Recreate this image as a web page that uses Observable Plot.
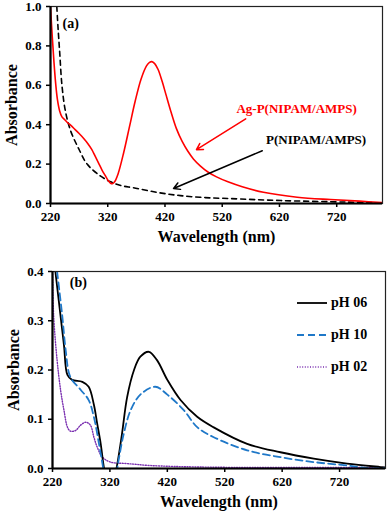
<!DOCTYPE html>
<html><head><meta charset="utf-8">
<script src="https://cdn.jsdelivr.net/npm/d3@7"></script>
<script src="https://cdn.jsdelivr.net/npm/@observablehq/plot@0.6"></script>
<style>
body{margin:0;background:#fff;}
#wrap{position:relative;width:387px;height:514px;font-family:'Liberation Serif';}
#wrap svg{display:block;}
#wrap text{font-family:'Liberation Serif' !important;}
#legend{position:absolute;left:297px;top:287px;font:bold 14px 'Liberation Serif';}
#legend div{display:flex;align-items:center;height:32px;}
#legend svg{margin-right:2px;}
</style></head>
<body><div id="wrap"><div id="pa"></div><div id="pb"></div><div id="legend"></div></div>
<script>
// Panel (a)
const agWl  = [220,223,226,229,232,236,240,245,250,256,263,270,278,285,292,298,304,310,316,321,325,328,332,338,348,358,368,378,388,393,397,402,408,415,422,430,440,450,460,470,482,495,510,530,555,592,651,709,760,800];
const agAbs = [1.0,0.85,0.72,0.61,0.53,0.47,0.44,0.425,0.41,0.395,0.375,0.355,0.33,0.305,0.275,0.24,0.205,0.17,0.14,0.115,0.103,0.10,0.11,0.15,0.26,0.39,0.52,0.63,0.70,0.716,0.72,0.71,0.68,0.62,0.55,0.47,0.38,0.315,0.265,0.225,0.19,0.16,0.135,0.11,0.085,0.057,0.032,0.02,0.012,0.004];
const polWl  = [231,233,236,240,246,255,269,284,307,325,345,365,407,447,490,534,622,739,800];
const polAbs = [1.0,0.9,0.77,0.60,0.47,0.37,0.28,0.20,0.14,0.11,0.09,0.08,0.056,0.04,0.03,0.025,0.015,0.007,0.003];
// Panel (b)
const ph06Wl  = [225,234,240,246,254,272,283,292,298,304,309,315,320,326,333,341,350,362,373,388,402,420,443,472,500,559,617,675,733,791,800];
const ph06Abs = [0.40,0.31,0.25,0.19,0.18,0.176,0.166,0.13,0.09,0.05,0.006,-0.03,-0.05,-0.03,0.01,0.07,0.145,0.20,0.227,0.237,0.22,0.18,0.139,0.105,0.084,0.05,0.033,0.02,0.01,0.003,0.002];
const ph10Wl  = [228,237,243,251,269,283,292,301,307,313,320,328,335,344,356,373,399,420,449,472,500,559,617,675,733,766,800];
const ph10Abs = [0.40,0.31,0.24,0.186,0.16,0.139,0.105,0.05,0.01,-0.03,-0.05,-0.03,0.016,0.07,0.118,0.15,0.166,0.15,0.118,0.084,0.064,0.037,0.023,0.013,0.006,0.001,0.0];
const ph02Wl  = [220,222,228,234,240,246,251,260,269,278,286,292,298,307,321,350,391,478,600,800];
const ph02Abs = [0.40,0.31,0.22,0.16,0.118,0.084,0.076,0.077,0.088,0.094,0.088,0.064,0.043,0.023,0.013,0.01,0.006,0.003,0.002,0.002];

const xTicks = [220,320,420,520,620,720];
const yTicksA = [0,0.2,0.4,0.6,0.8,1.0];
const yTicksB = [0,0.1,0.2,0.3,0.4];

const FF = "Liberation Serif";
const pts = (xs, ys) => xs.map((x,i)=>({x, y: ys[i]}));

function axes(yTicks, yDomain){
  return [
    Plot.axisX({ticks: xTicks, tickFormat: d=>String(d), tickSize: 4, tickPadding: 4, fontSize: 13, fontWeight: "bold", fontFamily: FF, label: null, strokeWidth: 1.5}),
    Plot.axisY({ticks: yTicks, tickFormat: d=>d.toFixed(1), tickSize: 4, tickPadding: 5, fontSize: 13, fontWeight: "bold", fontFamily: FF, label: null, strokeWidth: 1.5}),
    Plot.frame({stroke: "#222", strokeWidth: 1.2}),
    Plot.ruleX([220], {stroke: "#000", strokeWidth: 2.2}),
    Plot.ruleY([yDomain[0]], {stroke: "#000", strokeWidth: 2.2}),
    Plot.text(["Absorbance"], {frameAnchor: "left", textAnchor: "middle", dx: -39, rotate: -90, fontSize: 16, fontWeight: "bold", fontFamily: FF}),
    Plot.text(["Wavelength (nm)"], {frameAnchor: "bottom", dy: 38, fontSize: 16, fontWeight: "bold", fontFamily: FF})
  ];
}

const plotA = Plot.plot({
  width: 387, height: 250,
  marginLeft: 50, marginRight: 5, marginTop: 6, marginBottom: 47,
  style: {color: "#000", background: "#fff", overflow: "visible"},
  x: {domain: [220, 800]},
  y: {domain: [0, 1.0]},
  marks: [
    Plot.line(pts(polWl, polAbs), {x: "x", y: "y", stroke: "#000", strokeWidth: 1.6, strokeDasharray: "5,4", curve: "catmull-rom", clip: true}),
    Plot.line(pts(agWl, agAbs), {x: "x", y: "y", stroke: "#ff0000", strokeWidth: 1.6, curve: "catmull-rom", clip: true}),
    Plot.arrow([{x1: 561, y1: 0.43, x2: 475, y2: 0.273}], {x1: "x1", y1: "y1", x2: "x2", y2: "y2", stroke: "#ff0000", strokeWidth: 1.5, headLength: 7}),
    Plot.arrow([{x1: 590, y1: 0.268, x2: 435, y2: 0.076}], {x1: "x1", y1: "y1", x2: "x2", y2: "y2", stroke: "#000", strokeWidth: 1.5, headLength: 7}),
    Plot.text(["Ag-P(NIPAM/AMPS)"], {x: 650, y: 0.48, fill: "#ff0000", fontSize: 13, fontWeight: "bold", fontFamily: FF}),
    Plot.text(["P(NIPAM/AMPS)"], {x: 684, y: 0.323, fill: "#000", fontSize: 13, fontWeight: "bold", fontFamily: FF}),
    Plot.text(["(a)"], {x: 241, y: 0.914, textAnchor: "start", fontSize: 14, fontWeight: "bold", fontFamily: FF}),
    ...axes(yTicksA, [0, 1])
  ]
});

const colB = {"pH 06": "#000", "pH 10": "#1f78c8", "pH 02": "#7a2fb0"};
const dashB = {"pH 06": null, "pH 10": "7,4", "pH 02": "1,1.6"};
const plotB = Plot.plot({
  width: 387, height: 264,
  marginLeft: 52, marginRight: 2, marginTop: 21, marginBottom: 46,
  style: {color: "#000", background: "#fff", overflow: "visible"},
  x: {domain: [220, 800]},
  y: {domain: [0, 0.4]},
  marks: [
    Plot.line(pts(ph02Wl, ph02Abs), {x: "x", y: "y", stroke: colB["pH 02"], strokeWidth: 1.4, strokeDasharray: dashB["pH 02"], curve: "catmull-rom", clip: true}),
    Plot.line(pts(ph06Wl, ph06Abs), {x: "x", y: "y", stroke: colB["pH 06"], strokeWidth: 1.8, curve: "catmull-rom", clip: true}),
    Plot.line(pts(ph10Wl, ph10Abs), {x: "x", y: "y", stroke: colB["pH 10"], strokeWidth: 1.8, strokeDasharray: dashB["pH 10"], curve: "catmull-rom", clip: true}),
    Plot.text(["(b)"], {x: 250, y: 0.378, textAnchor: "start", fontSize: 14, fontWeight: "bold", fontFamily: FF}),
    ...axes(yTicksB, [0, 0.4])
  ]
});

document.getElementById("pa").appendChild(plotA);
document.getElementById("pb").appendChild(plotB);

const legend = document.getElementById("legend");
for (const k of ["pH 06", "pH 10", "pH 02"]) {
  const row = document.createElement("div");
  const dash = dashB[k] ? `stroke-dasharray="${dashB[k]}"` : "";
  row.innerHTML = `<svg width="32" height="6"><line x1="0" y1="3" x2="30" y2="3" stroke="${colB[k]}" stroke-width="${k==='pH 02'?1.4:1.8}" ${dash}/></svg><span>${k}</span>`;
  legend.appendChild(row);
}
</script></body></html>
